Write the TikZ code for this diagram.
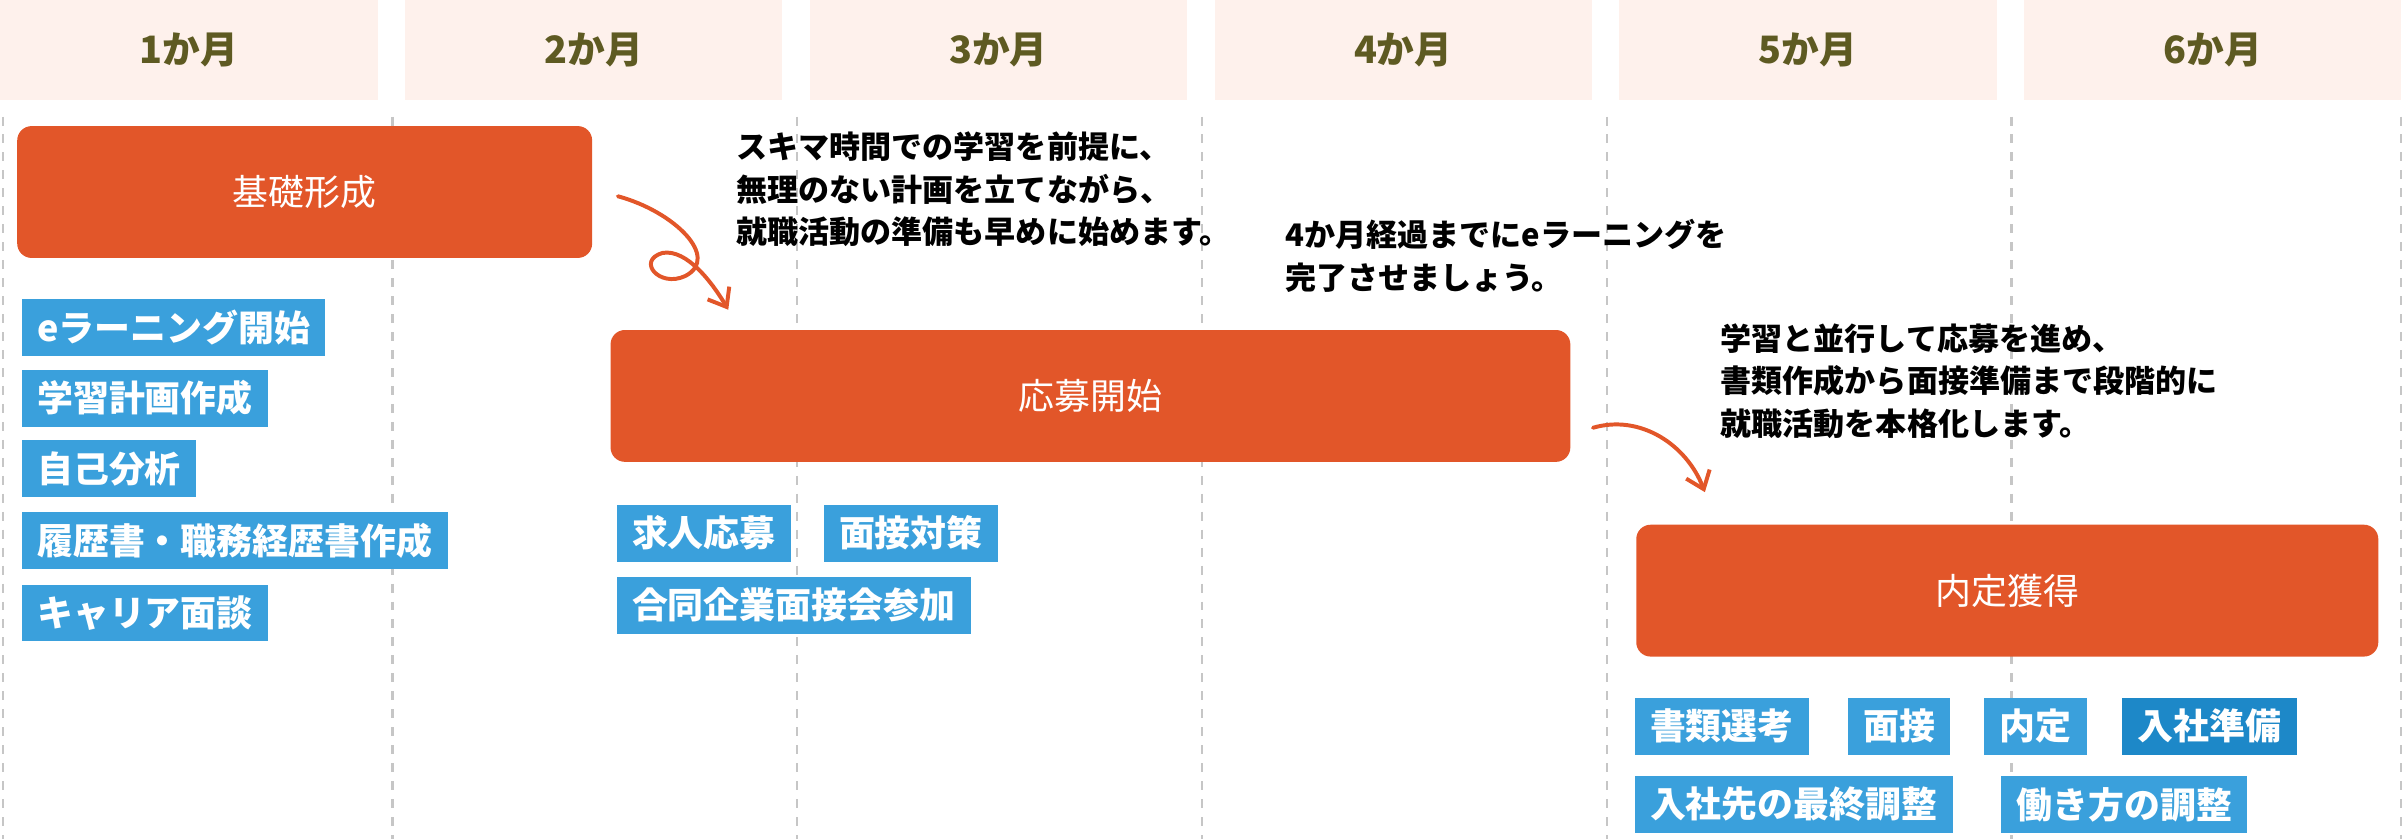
\documentclass[tikz,border=0pt]{standalone}
\usepackage{fontspec}
\setmainfont{Noto Sans CJK JP}
\usetikzlibrary{arrows.meta,positioning}
\definecolor{headbg}{HTML}{FEF1EC}
\definecolor{headtx}{HTML}{5E5A22}
\definecolor{barorg}{HTML}{E25629}
\definecolor{tagblu}{HTML}{3AA0DC}
\definecolor{tagdrk}{HTML}{1D88C8}

\begin{document}
\begin{tikzpicture}[
    x=0.03cm, y=-0.03cm,
    head/.style={rectangle, fill=headbg, minimum width=246*0.03cm, minimum height=65*0.03cm, text=headtx, font=\fontsize{21}{24}\selectfont\bfseries},
    phase/.style={rectangle, rounded corners=8pt, fill=barorg, text=white, font=\fontsize{20}{24}\selectfont, minimum height=86*0.03cm},
    tag/.style={rectangle, fill=tagblu, text=white, anchor=north west, inner xsep=0.3cm, minimum height=37*0.03cm, font=\fontsize{20}{24}\selectfont\bfseries},
    note/.style={anchor=north west, align=left, inner sep=0pt, font=\fontsize{17.3}{23.5}\selectfont\bfseries},
    curve/.style={barorg, line width=2.2pt, line cap=round, -{Straight Barb[length=9pt, width=14pt]}}
]
\useasboundingbox (0,0) rectangle (1568,547);

% Month headers and grid
\foreach \i/\x in {1/0, 2/264, 3/528, 4/792, 5/1056, 6/1320} {
    \node[head, anchor=north west] (m\i) at (\x,0) {\i か月};
}
\foreach \x in {2, 256, 520, 784, 1048, 1312, 1566} {
    \draw[gray!45, line width=1.3pt, dash pattern=on 5pt off 5pt] (\x,76) -- (\x,547);
}

% Phases
\node[phase, minimum width=375*0.03cm, anchor=north west] (base) at (11,82) {基礎形成};
\node[phase, minimum width=626*0.03cm, anchor=north west] (apply) at (398,215) {応募開始};
\node[phase, minimum width=484*0.03cm, anchor=north west] (offer) at (1067,342) {内定獲得};

% Tasks
\node[tag] (t1) at (14,195) {eラーニング開始};
\node[tag] (t2) at (14,241) {学習計画作成};
\node[tag] (t3) at (14,287) {自己分析};
\node[tag] (t4) at (14,334) {履歴書・職務経歴書作成};
\node[tag] (t5) at (14,381) {キャリア面談};
\node[tag] (t6) at (402,329) {求人応募};
\node[tag] (t7) at (537,329) {面接対策};
\node[tag] (t8) at (402,376) {合同企業面接会参加};
\node[tag] (t9) at (1066,455) {書類選考};
\node[tag] (t10) at (1205,455) {面接};
\node[tag] (t11) at (1294,455) {内定};
\node[tag, fill=tagdrk] (t12) at (1384,455) {入社準備};
\node[tag] (t13) at (1066,506) {入社先の最終調整};
\node[tag] (t14) at (1305,506) {働き方の調整};

% Notes
\node[note] (n1) at (480,86) {スキマ時間での学習を前提に、\\無理のない計画を立てながら、\\就職活動の準備も早めに始めます。};
\node[note] (n2) at (838,143) {4か月経過までにeラーニングを\\完了させましょう。};
\node[note] (n3) at (1122,211) {学習と並行して応募を進め、\\書類作成から面接準備まで段階的に\\就職活動を本格化します。};

% Arrows
\coordinate (a1s) at (403,128);
\coordinate (a1e) at (475,202);
\coordinate (a2s) at (1039,279);
\coordinate (a2e) at (1112,321);
\draw[curve] (a1s) .. controls (440,138) and (470,168) .. (447,180)
    .. controls (430,188) and (415,170) .. (432,165)
    .. controls (448,162) and (465,185) .. (a1e);
\draw[curve] (a2s) .. controls (1070,270) and (1100,290) .. (a2e);
\end{tikzpicture}
\end{document}
